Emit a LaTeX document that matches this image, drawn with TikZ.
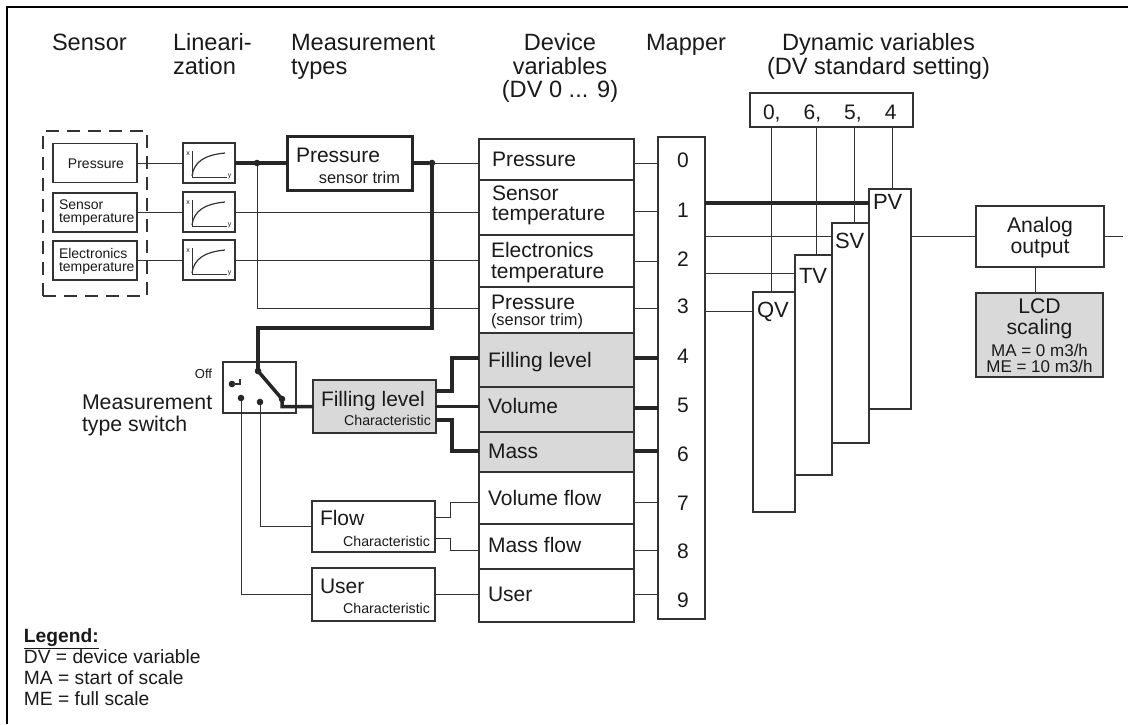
\documentclass[tikz,border=0pt]{standalone}
\usepackage{fontspec}
\setmainfont{Liberation Sans}
\usetikzlibrary{fit,calc}
\newcommand{\myfs}[1]{\fontsize{#1}{#1}\selectfont}
\definecolor{ln}{HTML}{333333}
\definecolor{gfill}{HTML}{D9D9D9}
\definecolor{tc}{HTML}{1A1A1A}
\begin{document}
\begin{tikzpicture}[x=0.5pt,y=-0.5pt,
  box/.style={draw=ln,line width=0.65pt,inner sep=0pt,outer sep=0pt,fill=white},
  gbox/.style={box,fill=gfill},
  txt/.style={inner sep=0pt,outer sep=0pt,text=tc},
  con/.style={draw=ln,line width=0.5pt},
  thk/.style={draw=black!85,line width=1.75pt},
  dotn/.style={circle,fill=black!85,inner sep=0pt,outer sep=0pt,minimum size=3.3pt}]
\useasboundingbox (0,0) rectangle (1133,724);
\draw[line width=1pt] (7,724) -- (7,6.5) -- (1128,6.5);

% headers
\node[txt,anchor=base west,font=\myfs{11.8}] (hsen) at (52,50.5) {Sensor};
\node[txt,anchor=base west,font=\myfs{11.8}] (hlin1) at (173,50.5) {Lineari-};
\node[txt,anchor=base west,font=\myfs{11.8}] (hlin2) at (173,74) {zation};
\node[txt,anchor=base west,font=\myfs{11.8}] (hmt1) at (291,50.5) {Measurement};
\node[txt,anchor=base west,font=\myfs{11.8}] (hmt2) at (291,74) {types};
\node[txt,anchor=base,font=\myfs{11.8}] (hdv1) at (560,50.5) {Device};
\node[txt,anchor=base,font=\myfs{11.8}] (hdv2) at (560,74) {variables};
\node[txt,anchor=base,font=\myfs{11.8}] (hdv3) at (560,97.5) {(DV 0 ... 9)};
\node[txt,anchor=base,font=\myfs{11.8}] (hmap) at (686,50.5) {Mapper};
\node[txt,anchor=base,font=\myfs{11.8}] (hdyn1) at (878.5,50) {Dynamic variables};
\node[txt,anchor=base,font=\myfs{11.8}] (hdyn2) at (878.5,74) {(DV standard setting)};

% sensors
\node[box,fill=none,dash pattern=on 6.5pt off 4pt,fit={(43,131) (147,296)}] (sgrp) {};
\node[box,fit={(53,143.5) (137,182.5)}] (psens) {};
\node[txt,anchor=base,font=\myfs{7}] (tps) at (96,168) {Pressure};
\node[box,fit={(53,193) (137,232)}] (stemp) {};
\node[txt,anchor=base west,font=\myfs{7}] (tst1) at (59,209) {Sensor};
\node[txt,anchor=base west,font=\myfs{7}] (tst2) at (59,222.5) {temperature};
\node[box,fit={(53,241) (137,280)}] (etemp) {};
\node[txt,anchor=base west,font=\myfs{7}] (tet1) at (59,258) {Electronics};
\node[txt,anchor=base west,font=\myfs{7}] (tet2) at (59,271.5) {temperature};

% linearization
\foreach \n/\t in {1/143,2/192,3/240}{
  \node[box,fit={(183,\t) (235,\t+40)}] (lin\n) {};
  \draw[line width=0.5pt,ln] (192,\t+8) -- (192,\t+34) -- (227,\t+34);
  \draw[line width=0.6pt,ln] (192,\t+33) .. controls (194,\t+19) and (204,\t+12) .. (225,\t+10);
  \node[txt,font=\myfs{3.5}] (lx\n) at (188,\t+11) {x};
  \node[txt,font=\myfs{3.5}] (ly\n) at (229.5,\t+33) {y};
}
\draw[con] (psens.east) -- (lin1.west);
\draw[con] (stemp.east) -- (stemp.east -| lin2.west);
\draw[con] (etemp.east) -- (etemp.east -| lin3.west);

% pressure sensor trim
\node[box,line width=1.5pt,draw=black!85,fit={(287,136) (412,190)}] (ptrim) {};
\node[txt,anchor=base west,font=\myfs{10.5}] (tpt1) at (296,162) {Pressure};
\node[txt,anchor=base east,font=\myfs{8.2}] (tpt2) at (400,183) {sensor trim};

% switch
\node[box,fit={(223,362) (296,413)}] (sw) {};
\node[txt,anchor=base east,font=\myfs{6.5}] (toff) at (212,378) {Off};
\node[txt,anchor=base west,font=\myfs{10.65}] (tsw1) at (82,409) {Measurement};
\node[txt,anchor=base west,font=\myfs{10.65}] (tsw2) at (82,431) {type switch};

% characteristic boxes
\node[gbox,fit={(313,380) (436,433)}] (fl) {};
\node[txt,anchor=base west,font=\myfs{10.5}] (tfl1) at (321,406) {Filling level};
\node[txt,anchor=base east,font=\myfs{7.1}] (tfl2) at (431,425) {Characteristic};
\node[box,fit={(312,501) (435,552)}] (flow) {};
\node[txt,anchor=base west,font=\myfs{10.5}] (tfw1) at (320,525) {Flow};
\node[txt,anchor=base east,font=\myfs{7.1}] (tfw2) at (430,546) {Characteristic};
\node[box,fit={(312,568) (435,621)}] (user) {};
\node[txt,anchor=base west,font=\myfs{10.5}] (tus1) at (320,593) {User};
\node[txt,anchor=base east,font=\myfs{7.1}] (tus2) at (430,613) {Characteristic};

% device variables
\foreach \i/\a/\b/\f in {1/139/180/white,2/180/235/white,3/235/287/white,4/287/333/white,5/333/387/gfill,6/387/432/gfill,7/432/472/gfill,8/472/524/white,9/524/569/white,10/569/622/white}
  \node[box,fill=\f,fit={(479,\a) (634,\b)}] (dv\i) {};
\node[txt,anchor=base west,font=\myfs{10.5}] (tdv1) at (492,166) {Pressure};
\node[txt,anchor=base west,font=\myfs{10.5}] (tdv2a) at (492,200) {Sensor};
\node[txt,anchor=base west,font=\myfs{10.5}] (tdv2b) at (492,220) {temperature};
\node[txt,anchor=base west,font=\myfs{10.5}] (tdv3a) at (491,257) {Electronics};
\node[txt,anchor=base west,font=\myfs{10.5}] (tdv3b) at (491,278) {temperature};
\node[txt,anchor=base west,font=\myfs{10.5}] (tdv4a) at (491,309) {Pressure};
\node[txt,anchor=base west,font=\myfs{8.2}] (tdv4b) at (491,325) {(sensor trim)};
\node[txt,anchor=base west,font=\myfs{10.5}] (tdv5) at (488,367) {Filling level};
\node[txt,anchor=base west,font=\myfs{10.5}] (tdv6) at (488,413) {Volume};
\node[txt,anchor=base west,font=\myfs{10.5}] (tdv7) at (488,458) {Mass};
\node[txt,anchor=base west,font=\myfs{10.5}] (tdv8) at (488,505) {Volume flow};
\node[txt,anchor=base west,font=\myfs{10.5}] (tdv9) at (488,552) {Mass flow};
\node[txt,anchor=base west,font=\myfs{10.5}] (tdv10) at (488,601) {User};

% mapper
\node[box,fit={(658,137) (705,619)}] (map) {};
\foreach \i/\y in {0/167,1/217,2/266,3/313,4/363,5/412,6/461,7/510,8/558,9/607}
  \node[txt,anchor=base,font=\myfs{10.5}] (m\i) at (683,\y) {\i};

% dynamic variables
\node[box,fit={(750,93) (913,127)}] (dvs) {};
\node[txt,anchor=base west,font=\myfs{10.5}] (tdvs) at (763,119) {0,\hspace{1.1em}6,\hspace{1.1em}5,\hspace{1.1em}4};
\node[box,fit={(753,292) (795,512)}] (qv) {};
\node[box,fit={(795,255) (832,475)}] (tv) {};
\node[box,fit={(832,223) (869,443)}] (sv) {};
\node[box,fit={(869,189) (911,409)}] (pv) {};
\node[txt,anchor=base west,font=\myfs{11}] (tqv) at (757,317) {QV};
\node[txt,anchor=base west,font=\myfs{11}] (ttv) at (799,283) {TV};
\node[txt,anchor=base west,font=\myfs{11}] (tsv) at (835,248) {SV};
\node[txt,anchor=base west,font=\myfs{11}] (tpv) at (873,209) {PV};

% outputs
\node[box,fit={(976,206) (1104,267)}] (analog) {};
\node[txt,anchor=base,font=\myfs{10.6}] (tan1) at (1040,232) {Analog};
\node[txt,anchor=base,font=\myfs{10.6}] (tan2) at (1040,253) {output};
\node[gbox,fit={(976,293) (1103,377)}] (lcd) {};
\node[txt,anchor=base,font=\myfs{10.6}] (tlcd1) at (1039.5,313) {LCD};
\node[txt,anchor=base,font=\myfs{10.6}] (tlcd2) at (1039.5,334) {scaling};
\node[txt,anchor=base,font=\myfs{8.5}] (tlcd3) at (1039.5,356) {MA = 0 m3/h};
\node[txt,anchor=base,font=\myfs{8.5}] (tlcd4) at (1039.5,372) {ME = 10 m3/h};
\coordinate (aout) at (1123,236.5);

% legend
\node[txt,anchor=base west,font=\myfs{9.6}] (lg0) at (24,642) {\underline{\textbf{Legend:}}};
\node[txt,anchor=base west,font=\myfs{9.6}] (lg1) at (24,663) {DV = device variable};
\node[txt,anchor=base west,font=\myfs{9.6}] (lg2) at (24,684) {MA = start of scale};
\node[txt,anchor=base west,font=\myfs{9.6}] (lg3) at (24,705) {ME = full scale};

% dots and switch contacts
\node[dotn] (d1) at (257,163) {};
\node[dotn] (d2) at (432,163) {};
\node[dotn] (piv) at (258,371) {};
\node[dotn] (arm) at (282,399) {};
\node[dotn] (coff) at (232,384) {};
\node[dotn] (c1) at (241,398) {};
\node[dotn] (c2) at (260,402) {};

% connectors
\draw[thk] (lin1.east) -- (ptrim.west);
\draw[thk] (ptrim.east) -- (d2);
\draw[con] (d2) -- (d2 -| dv1.west);
\draw[con] (d1) |- (dv4.west |- 0,308);
\draw[con] (lin2.east) -- (lin2.east -| dv2.west);
\draw[con] (lin3.east) -- (lin3.east -| dv3.west);
\draw[thk] (d2.center) -- (432,328) -| (piv.center);
\draw[thk] (piv.center) -- (arm.center) |- (fl.west);
\draw[ln,line width=0.6pt] (coff.center) -- (240,384) -- (240,379);
\draw[con] (c1) |- (user.west);
\draw[con] (c2) |- (flow.west);

\draw[thk] (fl.east |- 0,391) -- (452,391) |- (dv5.west |- 0,358);
\draw[thk] (fl.east) -- (fl.east -| dv6.west);
\draw[thk] (fl.east |- 0,420) -- (452,420) |- (dv7.west |- 0,451);
\draw[con] (flow.east |- 0,517) -- (450,517) |- (dv8.west |- 0,502);
\draw[con] (flow.east |- 0,538) -- (450,538) |- (dv9.west |- 0,550);
\draw[con] (user.east) -- (user.east -| dv10.west);

\foreach \i/\y in {1/163,2/211,3/261,4/308,8/502,9/550,10/594}
  \draw[con] (dv\i.east |- 0,\y) -- (map.west |- 0,\y);
\foreach \i/\y in {5/358,6/408,7/451}
  \draw[thk] (dv\i.east |- 0,\y) -- (map.west |- 0,\y);

\draw[thk] (map.east |- 0,203) -- (pv.west |- 0,203);
\draw[con] (map.east |- 0,236) -- (sv.west |- 0,236);
\draw[con] (map.east |- 0,273) -- (tv.west |- 0,273);
\draw[con] (map.east |- 0,311) -- (qv.west |- 0,311);
\draw[con] (dvs.south -| 771,0) -- (qv.north -| 771,0);
\draw[con] (dvs.south -| 816,0) -- (tv.north -| 816,0);
\draw[con] (dvs.south -| 854,0) -- (sv.north -| 854,0);
\draw[con] (dvs.south -| 892,0) -- (pv.north -| 892,0);

\draw[con] (pv.east |- analog.west) -- (analog.west);
\draw[con] (analog.east) -- (aout);
\draw[con] ([xshift=-2.5pt]analog.south) -- ([xshift=-2.5pt]analog.south |- lcd.north);
\end{tikzpicture}
\end{document}
